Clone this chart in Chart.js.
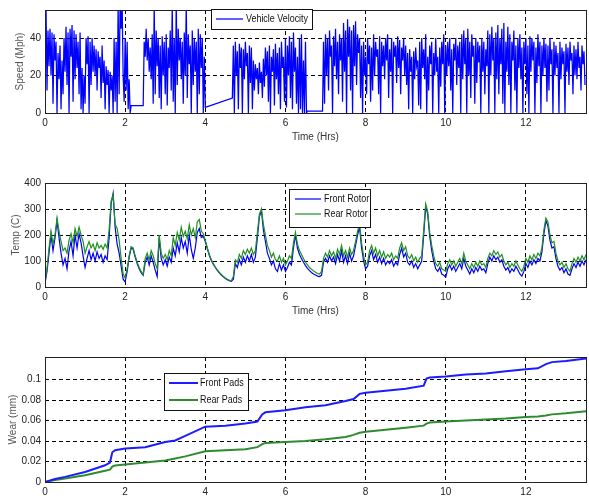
<!DOCTYPE html>
<html>
<head>
<meta charset="utf-8">
<script src="https://cdn.jsdelivr.net/npm/chart.js@4.4.0/dist/chart.umd.min.js"></script>
<style>
  body { margin: 0; background: #fff; width: 589px; height: 498px; position: relative; overflow: hidden; }
  canvas { position: absolute; left: 0; }
</style>
</head>
<body>
<canvas id="speedChart" width="589" height="145" style="top:0px"></canvas>
<canvas id="tempChart" width="589" height="170" style="top:150px"></canvas>
<canvas id="wearChart" width="589" height="173" style="top:325px"></canvas>
<script>
// ---- tick labels ----
const timeTicks = [0, 2, 4, 6, 8, 10, 12];
const speedTicks = [0, 20, 40];
const tempTicks = [0, 100, 200, 300, 400];
const wearTicks = [0, 0.02, 0.04, 0.06, 0.08, 0.1];

// ---- vehicle velocity (mph), sampled every VEL_STEP hrs, in 4 driving blocks ----
const VEL_STEP = 0.025;
const velStarts = [0, 2.45, 4.675, 6.925];
const velA = [3,58,12,44, 25,45,20,43, 5,42,28,38, 0,32,18,36, 2,28,10,40, 22,46,15,43, 0,45,30,47,
  6,44,18,42, 24,38,10,43, 2,24,0,20, 5,40,26,41, 0,38,15,40, 22,36,20,34, 12,33,24,30, 8,36,16,28,
  2,25,15,23, 0,22,12,20, 0,40,6,38, 0,58,10,60, 45,58,20,6, 40,12,38,2, 18,0,4];
const velB = [4, 38,30,45,28, 40,22,35,18, 42,5,58,10, 44,25,40,8, 36,2,41,20, 38,10,42,4, 35,24,44,12,
  58,6,40,0, 60,15,45,28, 40,18,38,5, 43,20,58,8, 42,26,36,0, 44,15,40,22, 38,0,45,10, 42,24,40,0, 30,3];
const velC = [8, 36,0,38,20, 33,2,37,24, 35,0,34,18, 38,25,32,0, 36,16,35,2, 28,12,26,18, 24,10,27,16,
  22,8,29,14, 35,20,33,6, 36,0,30,22, 34,4,37,18, 32,10,35,2, 38,24,30,6, 40,3,36,20, 41,8,38,2,
  43,22,35,5, 30,0,40,2, 42,0,28,0, 38,0,1,1];
const velD = [1,
  38,5,42,20, 40,12,44,30, 36,0,41,25, 45,18,38,10, 42,28,40,6, 48,22,44,0, 50,30,46,12, 44,0,47,25,
  49,15,42,32, 40,8,36,0, 38,20,30,10, 40,26,36,6, 35,12,42,20, 38,30,34,10, 41,0,38,25, 36,18,40,28,
  42,8,34,22, 40,0,38,30, 36,16,41,24, 39,10,35,28, 40,20,36,15, 32,2,34,22, 30,0,33,18, 35,25,28,4,
  38,2,40,24, 34,18,42,0, 30,12,36,26, 38,0,32,20, 40,22,30,0, 35,14,38,26, 42,0,36,20, 38,25,40,12,
  34,0,37,28, 40,15,36,24, 38,0,42,18, 44,26,40,0, 45,20,38,8, 42,30,36,5, 40,16,38,27, 36,0,40,22,
  38,10,34,25, 44,0,42,20, 46,28,40,0, 43,18,47,10, 40,26,45,5, 48,0,38,22, 46,15,42,0, 38,28,44,12,
  36,0,40,24, 42,18,35,0, 38,26,40,10, 36,0,41,22, 40,28,38,0, 35,16,42,25, 38,0,36,20, 40,24,37,6,
  36,12,40,26, 34,0,38,20, 36,24,32,0, 38,18,35,26, 33,0,37,22, 35,15,38,28, 32,10,36,20, 34,18,38,24,
  30,12,36,26, 33,15];

// ---- rotor temperature (C), every TEMP_STEP hrs from 0 ----
const TEMP_STEP = 0.05;
const frontRotor = [
  15,60,130,200,140,190,255,190,130,85, 110,70,140,175,120,200,150,205,170,120,
  75,110,140,105,130,100,135,110,125,95, 120,105,190,320,360,230,165,130,80,30,
  20,60,115,150,145,115,90,70,55,45, 95,115,85,120,95,65,40,190,110,85,
  105,80,115,95,150,120,170,135,190,150, 175,130,200,145,110,150,210,225,190,195,
  175,148,122,102,88,75,64,54,46,39, 33,28,24,22,30,90,75,105,85,115,
  95,120,100,125,95,115,190,270,295,220, 175,130,110,85,100,70,60,90,65,85,
  60,75,95,85,150,200,150,125,110,95, 82,72,63,56,50,46,42,40,45,95,
  110,95,120,100,115,90,125,100,140,95, 120,90,130,100,120,160,200,230,150,100,
  70,80,120,140,105,125,95,115,90,110, 85,100,90,105,80,95,85,125,150,115,
  130,95,85,100,75,90,70,85,100,200, 310,280,195,140,100,70,60,75,50,45,
  38,70,85,65,80,60,75,90,70,110, 80,65,50,70,55,75,60,80,65,70,
  55,90,115,100,120,105,115,95,105,80, 65,75,55,70,60,80,65,50,42,60,
  90,75,100,85,105,90,110,100,135,205, 255,235,180,150,155,110,80,65,75,55,
  70,50,45,70,90,75,95,80,100,85,105];
const rearRotor = [
  20,70,150,215,165,200,265,215,175,140, 150,130,180,205,170,225,195,230,200,175,
  130,155,175,150,165,140,170,150,160,145, 165,150,220,330,355,240,225,180,110,50,
  35,70,120,155,150,120,95,75,60,48, 110,130,105,140,120,90,70,200,130,110,
  125,105,140,120,190,160,210,180,230,195, 215,185,240,200,225,190,250,260,215,205,
  180,150,125,105,90,77,66,56,48,41, 35,30,26,24,40,105,95,125,110,140,
  125,145,130,150,125,140,210,280,300,240, 200,160,140,115,130,105,100,120,95,110,
  85,100,120,110,170,210,165,140,125,110, 95,85,75,68,62,57,52,50,60,110,
  130,115,140,120,135,110,145,125,160,120, 140,115,150,125,140,175,215,240,170,120,
  85,95,140,160,130,150,120,140,115,135, 110,125,115,130,105,120,110,150,170,140,
  155,120,110,125,100,115,95,110,120,220, 320,290,210,160,120,90,80,95,70,65,
  60,90,105,85,100,80,95,110,90,130, 100,85,70,90,75,95,80,100,85,90,
  75,110,130,120,140,125,135,115,125,100, 85,95,75,90,80,100,85,70,60,80,
  110,95,120,105,125,110,130,120,150,220, 265,250,200,170,175,130,100,85,95,75,
  90,70,60,90,110,95,115,100,120,105,125];

// ---- cumulative pad wear (mm) ----
const wearTimes = [0, 0.25, 0.5, 1.0, 1.5, 1.62, 1.68, 1.75, 2.0, 2.5, 3.0, 3.25, 3.5, 4.0, 4.5, 5.0,
  5.3, 5.42, 5.5, 6.0, 6.5, 7.0, 7.5, 7.7, 7.85, 8.0, 8.5, 9.0, 9.45, 9.52, 9.6, 10.0, 10.5, 11.0,
  11.5, 12.0, 12.3, 12.5, 12.65, 13.0, 13.5];
const frontPads = [0, 0.003, 0.005, 0.0098, 0.0163, 0.019, 0.029, 0.031, 0.0326, 0.034, 0.039, 0.0405,
  0.045, 0.054, 0.055, 0.057, 0.059, 0.066, 0.068, 0.070, 0.073, 0.075, 0.079, 0.081, 0.086, 0.087,
  0.089, 0.091, 0.094, 0.101, 0.102, 0.103, 0.105, 0.106, 0.108, 0.110, 0.111, 0.115, 0.117, 0.118, 0.1205];
const rearPads = [0, 0.002, 0.0035, 0.0065, 0.011, 0.012, 0.015, 0.016, 0.017, 0.019, 0.021, 0.023,
  0.025, 0.030, 0.031, 0.032, 0.034, 0.037, 0.038, 0.039, 0.040, 0.0417, 0.044, 0.046, 0.048, 0.049,
  0.051, 0.053, 0.055, 0.057, 0.058, 0.059, 0.060, 0.061, 0.062, 0.0635, 0.064, 0.065, 0.066, 0.067, 0.069];

const FONT = "'Liberation Sans', Arial, sans-serif";

function sampled(start, step, values) {
  return values.map((v, i) => ({ x: start + i * step, y: v }));
}

// matlab-ish box around the axes
const frame = {
  id: 'frame',
  afterDraw(chart) {
    const { ctx, chartArea: a } = chart;
    ctx.save();
    ctx.strokeStyle = '#222';
    ctx.lineWidth = 1;
    ctx.strokeRect(a.left + 0.5, a.top + 0.5, a.right - a.left, a.bottom - a.top);
    ctx.restore();
  }
};

// legend box placed inside the plot like the original (text squeezed a bit, matlab font is narrow)
const boxLegend = {
  id: 'boxLegend',
  afterDraw(chart, args, o) {
    const ctx = chart.ctx;
    ctx.save();
    ctx.fillStyle = '#fff';
    ctx.fillRect(o.x, o.y, o.w, o.h);
    ctx.strokeStyle = '#111';
    ctx.lineWidth = 1;
    ctx.strokeRect(o.x + 0.5, o.y + 0.5, o.w, o.h);
    chart.data.datasets.forEach((ds, i) => {
      const y = o.rows[i];
      ctx.strokeStyle = ds.borderColor;
      ctx.lineWidth = ds.borderWidth;
      ctx.beginPath();
      ctx.moveTo(o.lineX[0], y);
      ctx.lineTo(o.lineX[1], y);
      ctx.stroke();
      ctx.save();
      ctx.translate(o.textX, y + 0.5);
      ctx.scale(0.85, 1);
      ctx.font = '10.5px ' + FONT;
      ctx.textBaseline = 'middle';
      ctx.textAlign = 'left';
      ctx.fillStyle = '#111';
      ctx.fillText(ds.label, 0, 0);
      ctx.restore();
    });
    ctx.restore();
  }
};

function panel(id, cfg) {
  const tickFont = { family: FONT, size: 10 };
  const titleFont = { family: FONT, size: 10 };
  return new Chart(document.getElementById(id), {
    type: 'line',
    data: { datasets: cfg.datasets },
    options: {
      responsive: false,
      animation: false,
      devicePixelRatio: 1,
      layout: { padding: { top: cfg.padTop, right: 3, left: 0, bottom: 0 }, autoPadding: false },
      elements: { point: { radius: 0 }, line: { tension: 0 } },
      plugins: { legend: { display: false }, tooltip: { enabled: false }, boxLegend: cfg.legend },
      scales: {
        x: {
          type: 'linear', min: 0, max: 13.5,
          afterBuildTicks: s => { s.ticks = timeTicks.map(v => ({ value: v })); },
          afterFit: s => { s.height = cfg.xHeight; },
          grid: { color: '#000', lineWidth: 1, drawTicks: false },
          border: { display: false, dash: [4, 3] },
          ticks: { padding: 4, color: '#222', font: tickFont, maxRotation: 0, callback: v => String(v) },
          title: { display: !!cfg.xTitle, text: cfg.xTitle || '', color: '#333', font: titleFont,
                   padding: { top: 0, bottom: cfg.xTitlePad || 0 } }
        },
        y: {
          type: 'linear', min: 0, max: cfg.yMax,
          afterBuildTicks: s => { s.ticks = cfg.yTicks.map(v => ({ value: v })); },
          afterFit: s => { s.width = 45; },
          grid: { color: '#000', lineWidth: 1, drawTicks: false },
          border: { display: false, dash: [4, 3] },
          ticks: { padding: 4, color: '#222', font: tickFont, callback: v => String(v) },
          title: { display: true, text: cfg.yTitle, color: '#555', font: titleFont,
                   padding: { top: cfg.yTitlePad, bottom: 0 } }
        }
      }
    },
    plugins: [frame, boxLegend]
  });
}

panel('speedChart', {
  padTop: 9, xHeight: 32, xTitle: 'Time (Hrs)', xTitlePad: 2,
  yMax: 55, yTicks: speedTicks, yTitle: 'Speed (Mph)', yTitlePad: 14,
  datasets: [{
    label: 'Vehicle Velocity',
    data: velStarts.flatMap((t0, k) => sampled(t0, VEL_STEP, [velA, velB, velC, velD][k])),
    borderColor: '#0000ff', borderWidth: 1.25
  }],
  legend: { x: 211, y: 9, w: 101, h: 20, rows: [19], lineX: [216, 243], textX: 246 }
});

panel('tempChart', {
  padTop: 33, xHeight: 33, xTitle: 'Time (Hrs)', xTitlePad: 3,
  yMax: 400, yTicks: tempTicks, yTitle: 'Temp (C)', yTitlePad: 10,
  datasets: [
    { label: 'Front Rotor', data: sampled(0, TEMP_STEP, frontRotor), borderColor: '#0000ee', borderWidth: 1.2, order: 2 },
    { label: 'Rear Rotor', data: sampled(0, TEMP_STEP, rearRotor), borderColor: '#1f8f1f', borderWidth: 1.2, order: 1 }
  ],
  legend: { x: 289, y: 39, w: 81, h: 38, rows: [49, 64], lineX: [295, 321], textX: 324 }
});

panel('wearChart', {
  padTop: 32, xHeight: 16,
  yMax: 0.122, yTicks: wearTicks, yTitle: 'Wear (mm)', yTitlePad: 7,
  datasets: [
    { label: 'Front Pads', data: wearTimes.map((t, i) => ({ x: t, y: frontPads[i] })), borderColor: '#1c1cff', borderWidth: 2 },
    { label: 'Rear Pads', data: wearTimes.map((t, i) => ({ x: t, y: rearPads[i] })), borderColor: '#2e8b2e', borderWidth: 2 }
  ],
  legend: { x: 164, y: 48, w: 84, h: 37, rows: [58, 75], lineX: [169, 198], textX: 200 }
});
</script>
</body>
</html>
